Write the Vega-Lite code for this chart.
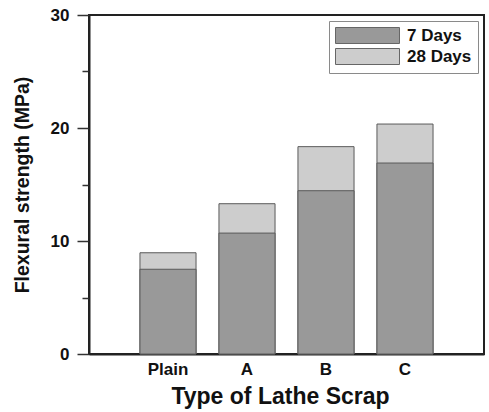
{
  "$schema": "https://vega.github.io/schema/vega-lite/v6.json",
  "autosize": {"type": "none"},
  "padding": {"left": 89, "top": 15, "right": 5, "bottom": 58},
  "width": 395,
  "height": 339,
  "background": "white",
  "config": {
    "font": "Liberation Sans",
    "view": {"stroke": "#222222", "strokeWidth": 2}
  },
  "data": {
    "values": [
      {"type": "Plain", "age": "28 Days", "strength": 8.96},
      {"type": "A", "age": "28 Days", "strength": 13.3},
      {"type": "B", "age": "28 Days", "strength": 18.35},
      {"type": "C", "age": "28 Days", "strength": 20.35},
      {"type": "Plain", "age": "7 Days", "strength": 7.5},
      {"type": "A", "age": "7 Days", "strength": 10.7},
      {"type": "B", "age": "7 Days", "strength": 14.45},
      {"type": "C", "age": "7 Days", "strength": 16.9}
    ]
  },
  "mark": {"type": "bar", "stroke": "#5a5a5a", "strokeWidth": 1},
  "encoding": {
    "x": {
      "field": "type",
      "type": "nominal",
      "sort": ["Plain", "A", "B", "C"],
      "scale": {"paddingInner": 0.29, "paddingOuter": 0.645},
      "axis": {
        "title": "Type of Lathe Scrap",
        "titleFontSize": 23,
        "titleFontWeight": "bold",
        "titleColor": "#111",
        "titlePadding": 8,
        "titleX": 191,
        "labelAngle": 0,
        "labelFontSize": 17,
        "labelFontWeight": "bold",
        "labelColor": "#111",
        "labelPadding": 7,
        "ticks": false,
        "domainColor": "#222",
        "domainWidth": 2
      }
    },
    "y": {
      "field": "strength",
      "type": "quantitative",
      "stack": null,
      "scale": {"domain": [0, 30], "nice": false},
      "axis": {
        "title": "Flexural strength (MPa)",
        "titleFontSize": 19.5,
        "titleFontWeight": "bold",
        "titleColor": "#111",
        "titlePadding": 18,
        "values": [0, 5, 10, 15, 20, 25, 30],
        "labelExpr": "datum.value % 10 === 0 ? datum.label : ''",
        "labelFontSize": 17,
        "labelFontWeight": "bold",
        "labelColor": "#111",
        "labelPadding": 8,
        "tickSize": {"condition": {"test": "datum.value % 10 === 0", "value": 12}, "value": 7},
        "tickColor": "#333",
        "tickWidth": 1.5,
        "grid": false,
        "domainColor": "#222",
        "domainWidth": 2
      }
    },
    "fill": {
      "field": "age",
      "type": "nominal",
      "scale": {"domain": ["7 Days", "28 Days"], "range": ["#999999", "#cdcdcd"]},
      "legend": {
        "title": null,
        "orient": "top-right",
        "offset": 6,
        "padding": 6,
        "strokeColor": "#8a8a8a",
        "fillColor": "white",
        "symbolType": "M-4,-1H4V1H-4Z",
        "symbolSize": 256,
        "symbolOffset": 24,
        "symbolStrokeColor": "#666",
        "symbolStrokeWidth": 1,
        "labelFontSize": 17,
        "labelFontWeight": "bold",
        "labelColor": "#111",
        "labelOffset": 31,
        "rowPadding": 0
      }
    }
  }
}
